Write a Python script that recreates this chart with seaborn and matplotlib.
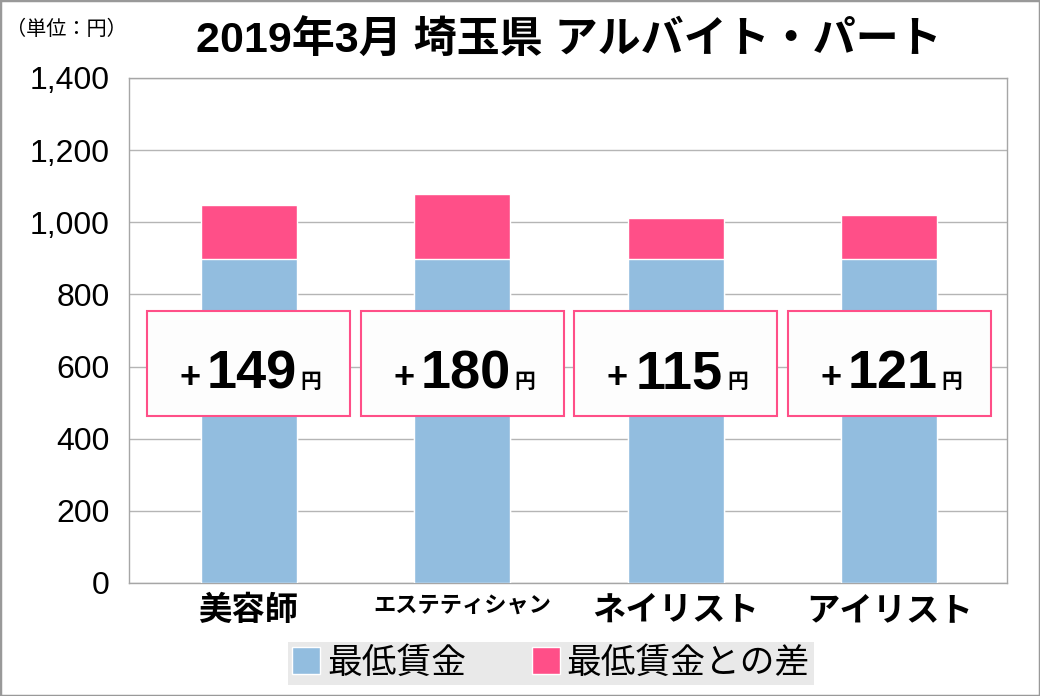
import matplotlib
matplotlib.use("Agg")
import matplotlib.pyplot as plt
import seaborn as sns
import pandas as pd
from matplotlib.patches import Rectangle, Patch

# データ
categories = ["美容師", "エステティシャン", "ネイリスト", "アイリスト"]
min_wage = [898, 898, 898, 898]
diff = [149, 180, 115, 121]
totals = [m + d for m, d in zip(min_wage, diff)]

blue = "#92bddf"
pink = "#ff4f88"
grey = "#a6a6a6"

sns.set_theme(style="white")
plt.rcParams["font.family"] = ["Liberation Sans", "Noto Sans CJK JP", "DejaVu Sans"]
plt.rcParams["text.color"] = "black"
plt.rcParams["xtick.color"] = "black"
plt.rcParams["ytick.color"] = "black"

df = pd.DataFrame({"cat": categories, "base": min_wage, "total": totals})

fig = plt.figure(figsize=(10.4, 6.96), dpi=100)
ax = fig.add_axes([0.124, 0.1624, 0.844, 0.7256])

sns.barplot(data=df, x="cat", y="total", color=pink, width=0.45,
            saturation=1, ax=ax, zorder=2)
sns.barplot(data=df, x="cat", y="base", color=blue, width=0.45,
            saturation=1, ax=ax, zorder=3)

ax.set_ylim(0, 1400)
ax.set_xlim(-0.56, 3.55)
ax.set_yticks(range(0, 1401, 200))
ax.set_yticklabels([f"{v:,}" for v in range(0, 1401, 200)], fontsize=23)
ax.yaxis.grid(True, color="#b5b5b5", linewidth=1, zorder=0)
ax.set_axisbelow(True)
ax.set_xlabel("")
ax.set_ylabel("")
ax.tick_params(axis="y", length=0, pad=14, colors="black")
ax.tick_params(axis="x", length=0, pad=8, colors="black")
for s in ax.spines.values():
    s.set_color(grey)
    s.set_linewidth(1)

# カテゴリラベル
ax.set_xticks(range(len(categories)))
ax.set_xticklabels(categories, fontweight="bold",
                   family=["Noto Sans CJK JP", "DejaVu Sans"])
for lbl in ax.get_xticklabels():
    lbl.set_fontsize(16 if len(lbl.get_text()) > 6 else 24)

# 差額ボックス
for i, d in enumerate(diff):
    ax.add_patch(Rectangle((i - 0.475, 464), 0.95, 289, facecolor="#fdfdfd",
                           edgecolor=pink, linewidth=1.5, zorder=4))
    ax.annotate("+", xy=(i, 540), xytext=(-42, 0), textcoords="offset points",
                ha="center", va="baseline", fontsize=26, fontweight="bold",
                family=["Liberation Sans", "DejaVu Sans"], zorder=5)
    ax.annotate(str(d), xy=(i, 540), xytext=(2.5, 0), textcoords="offset points",
                ha="center", va="baseline", fontsize=39, fontweight="bold",
                family=["Liberation Sans", "DejaVu Sans"], zorder=5)
    ax.annotate("円", xy=(i, 540), xytext=(37.5, 0), textcoords="offset points",
                ha="left", va="baseline", fontsize=15, fontweight="bold",
                family=["Noto Sans CJK JP", "DejaVu Sans"], zorder=5)

# タイトル・単位
fig.text(0.547, 0.94, "2019年3月 埼玉県 アルバイト・パート", ha="center", va="center",
         fontsize=31, fontweight="bold",
         family=["Liberation Sans", "Noto Sans CJK JP", "DejaVu Sans"])
fig.text(0.006, 0.957, "（単位：円）", ha="left", va="center", fontsize=14.5,
         family=["Noto Sans CJK JP", "DejaVu Sans"])

# 凡例
handles = [Patch(facecolor=blue, label="最低賃金"),
           Patch(facecolor=pink, label="最低賃金との差")]
leg = fig.legend(handles=handles, loc="center", bbox_to_anchor=(0.53, 0.047),
                 ncol=2, frameon=True, fancybox=False,
                 handlelength=0.8, handleheight=0.8, handletextpad=0.2,
                 columnspacing=1.9, borderpad=0.12, borderaxespad=0,
                 prop={"family": ["Noto Sans CJK JP", "DejaVu Sans"], "size": 25})
leg.get_frame().set_facecolor("#e4e4e4")
leg.get_frame().set_edgecolor("none")

# 外枠
fig.add_artist(Rectangle((0, 0), 1, 1, transform=fig.transFigure, fill=False,
                         edgecolor="#999999", linewidth=2.5))

fig.savefig("out.png", dpi=100, facecolor="white")
